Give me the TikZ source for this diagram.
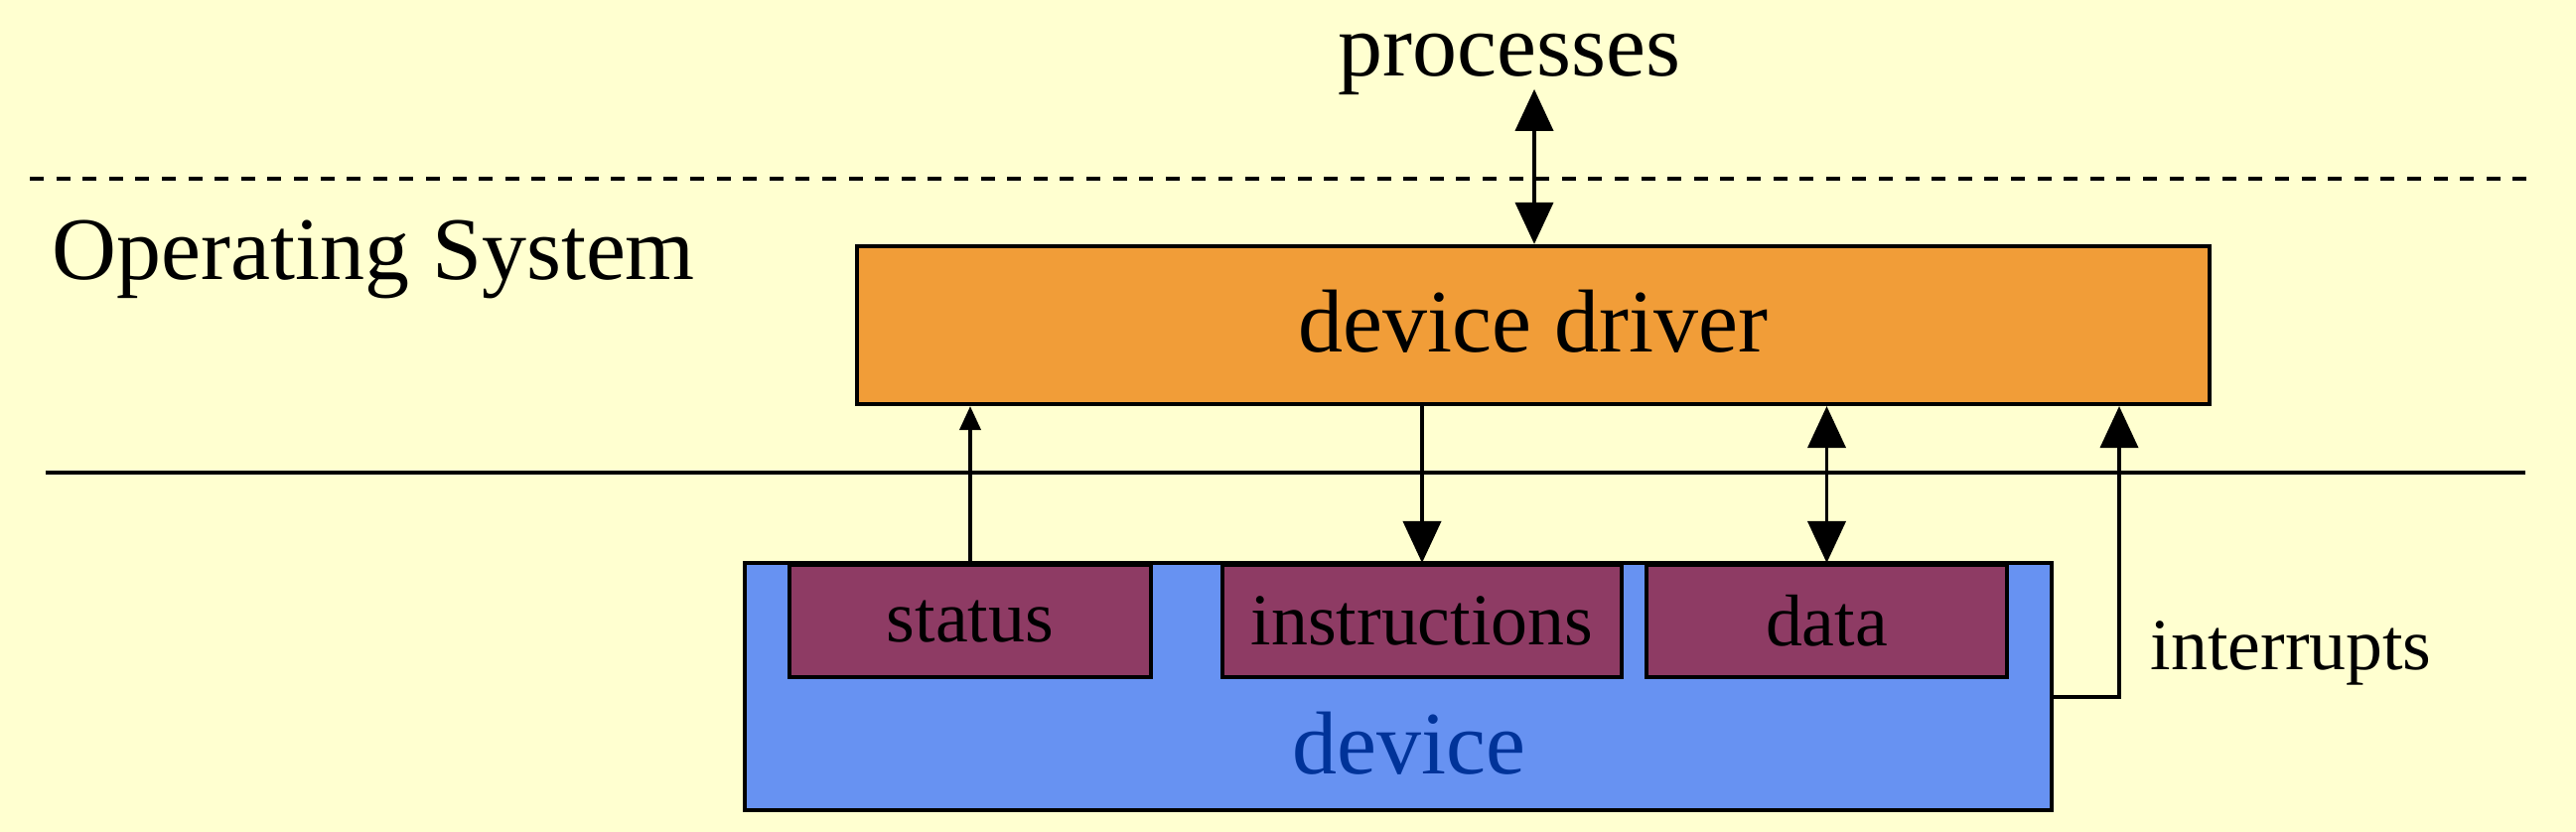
\documentclass[tikz,border=0pt]{standalone}
\usepackage{fontspec}
\setmainfont{Liberation Serif}
\usepackage{xcolor}
\usepackage{tikz}
\usetikzlibrary{positioning,arrows.meta}

\definecolor{slidebg}{RGB}{255,255,208}
\definecolor{driverorange}{RGB}{241,157,56}
\definecolor{deviceblue}{RGB}{103,146,242}
\definecolor{regmaroon}{RGB}{142,59,100}
\definecolor{devicetext}{RGB}{0,51,153}

\begin{document}
\begin{tikzpicture}[
  driverbox/.style={rectangle, draw=black, line width=1.2pt, fill=driverorange, minimum width=13.62cm, minimum height=1.59cm, font=\fontsize{25.6}{30}\selectfont},
  devbox/.style={rectangle, draw=black, line width=1.2pt, fill=deviceblue, minimum width=13.16cm, minimum height=2.49cm},
  regbox/.style={rectangle, draw=black, line width=1.2pt, fill=regmaroon, minimum height=1.13cm, font=\fontsize{21}{25}\selectfont},
  bigtext/.style={inner sep=0pt, font=\fontsize{25.6}{30}\selectfont},
  smalltext/.style={inner sep=0pt, font=\fontsize{21}{25}\selectfont},
  link/.style={-{Triangle[length=4.2mm,width=3.8mm]}, line width=1.1pt},
  duallink/.style={{Triangle[length=4.2mm,width=3.8mm]}-{Triangle[length=4.2mm,width=3.8mm]}, line width=1.1pt},
  thinlink/.style={-{Triangle[length=2.4mm,width=2.1mm]}, line width=1.1pt}
]
\fill[slidebg] (0,0) rectangle (25.94,8.38);
\useasboundingbox (0,0) rectangle (25.94,8.38);

% layers
\draw[line width=1.4pt, dash pattern=on 0.14cm off 0.126cm] (0.30,6.58) -- (25.52,6.58);
\draw[line width=1.4pt] (0.46,3.62) -- (25.43,3.62);

\node[bigtext, anchor=base] (procs) at (15.20,7.61) {processes};
\node[bigtext, anchor=base west] (ostxt) at (0.52,5.56) {Operating System};
\node[driverbox] (driver) at (15.44,5.105) {\raisebox{0.08cm}{device driver}};

% the device and its registers
\node[devbox] (dev) at (14.08,1.465) {};
\node[bigtext, anchor=base, text=devicetext] (devtxt) at (14.19,0.58) {device};
\node[regbox, minimum width=3.64cm, anchor=north] (status) at (9.77,2.71) {status};
\node[regbox, minimum width=4.02cm, anchor=north] (instr) at (14.32,2.71) {instructions};
\node[regbox, minimum width=3.63cm, anchor=north] (data) at (18.395,2.71) {data};

\coordinate (irq) at (21.34,1.36);
\node[smalltext, anchor=base west] (irqtxt) at (21.65,1.63) {interrupts};

\draw[duallink] (driver.north -| 15.45,0) -- ([yshift=0.07cm]procs.south -| 15.45,0);
\draw[thinlink] (status.north) -- (status.north |- driver.south);
\draw[link] (instr.north |- driver.south) -- (instr.north);
\draw[duallink] (data.north) -- (data.north |- driver.south);
\draw[link] (dev.east |- irq) -- (irq) -- (irq |- driver.south);
\end{tikzpicture}
\end{document}
